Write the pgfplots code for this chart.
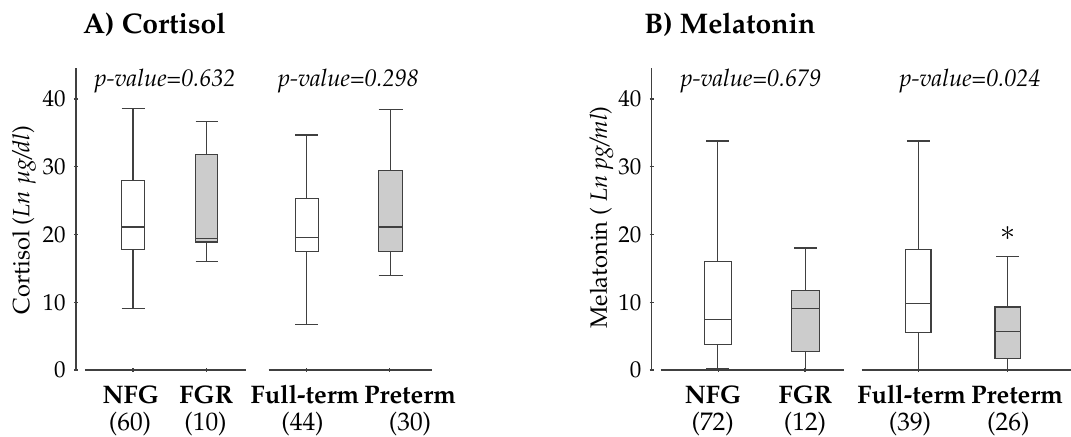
\documentclass[border=0pt,12pt]{standalone}
\usepackage[T1]{fontenc}
\usepackage{mathpazo}
\usepackage{pgfplots}
\pgfplotsset{compat=1.18}
\usepgfplotslibrary{statistics}
\definecolor{edge}{RGB}{64,64,64}
\definecolor{boxgray}{RGB}{204,204,204}
\newcommand{\lab}{\fontsize{12.7}{15}\selectfont}
\newcommand{\ttl}{\fontsize{14.2}{17}\selectfont\bfseries}
\pgfplotsset{
  panel/.style={
    x=0.5pt, y=3.3875pt, ymin=0, ymax=44.6, clip=false,
    anchor=south west,
    tick style={draw=edge, line width=0.6pt},
    tick align=outside, major tick length=2pt,
    xticklabels={},
    yticklabel style={font=\fontsize{11.5}{13}\selectfont},
    boxplot/draw direction=y,
  },
  lines/.style={
    axis line style={draw=edge, line width=0.6pt},
    every outer x axis line/.append style={-},
    every outer y axis line/.append style={-},
    x axis line style={-},
    y axis line style={-},
  },
  bw/.style={draw=edge, line width=0.6pt, fill=white, solid, mark=none},
  bg/.style={draw=edge, line width=0.6pt, fill=boxgray, solid, mark=none},
}
\begin{document}
\begin{tikzpicture}
\useasboundingbox (0,0) rectangle (535.5pt,-218.5pt);
% ---------- A) Cortisol, group 1 ----------
\begin{axis}[panel, at={(38pt,-185pt)}, xmin=76, xmax=246,
  axis x line=bottom, axis y line=left, lines,
  x axis line style={shorten <=4.5pt},
  xtick={133,206.7}, ytick={0,10,20,30,40},
  ylabel={Cortisol (\textit{Ln $\mu$g/dl})},
  ylabel style={at={(axis description cs:-0.305,0.496)}, anchor=center, font=\fontsize{11.8}{13}\selectfont}]
\addplot[bw, boxplot prepared={draw position=133, lower whisker=9.05, lower quartile=17.8, median=21.1, upper quartile=28.0, upper whisker=38.6, box extend=23, whisker extend=23}] coordinates {};
\addplot[bg, boxplot prepared={draw position=206.7, lower whisker=16.0, lower quartile=18.9, median=19.4, upper quartile=31.8, upper whisker=36.65, box extend=22, whisker extend=22}] coordinates {};
\node[anchor=base west, inner sep=0pt, font=\ttl] at (axis cs:82.7,49.6) {A) Cortisol};
\node[anchor=base] at (axis cs:165,41.9) {\textit{p-value=0.632}};
\node[anchor=base, font=\lab\bfseries] at (axis cs:130.8,-4.95) {NFG};
\node[anchor=base, font=\lab] at (axis cs:130,-9.0) {(60)};
\node[anchor=base, font=\lab\bfseries] at (axis cs:206.3,-4.95) {FGR};
\node[anchor=base, font=\lab] at (axis cs:205.5,-9.0) {(10)};
\end{axis}
% ---------- A) Cortisol, group 2 ----------
\begin{axis}[panel, at={(134.35pt,-185pt)}, xmin=268.7, xmax=432.3,
  axis x line=bottom, axis y line=none, lines,
  xtick={306.7,389.3}, ytick=\empty]
\addplot[bw, boxplot prepared={draw position=306.7, lower whisker=6.7, lower quartile=17.5, median=19.6, upper quartile=25.3, upper whisker=34.7, box extend=23, whisker extend=23}] coordinates {};
\addplot[bg, boxplot prepared={draw position=390.5, lower whisker=13.9, lower quartile=17.5, median=21.1, upper quartile=29.5, upper whisker=38.4, box extend=24, whisker extend=24}] coordinates {};
\node[anchor=base] at (axis cs:348.3,41.9) {\textit{p-value=0.298}};
\node[anchor=base, font=\lab\bfseries] at (axis cs:305,-4.95) {Full-term};
\node[anchor=base, font=\lab] at (axis cs:302.5,-9.0) {(44)};
\node[anchor=base, font=\lab\bfseries] at (axis cs:410,-4.95) {Preterm};
\node[anchor=base, font=\lab] at (axis cs:410,-9.0) {(30)};
\end{axis}
% ---------- B) Melatonin, group 1 ----------
\begin{axis}[panel, at={(325.85pt,-185pt)}, xmin=651.7, xmax=844,
  axis x line=bottom, axis y line=left, lines,
  x axis line style={shorten <=4.5pt},
  xtick={718.3,805}, ytick={0,10,20,30,40},
  ylabel={Melatonin ( \textit{Ln pg/ml})},
  ylabel style={at={(axis description cs:-0.26,0.505)}, anchor=center, font=\fontsize{11.8}{13}\selectfont}]
\addplot[bw, boxplot prepared={draw position=717.7, lower whisker=0.15, lower quartile=3.8, median=7.4, upper quartile=16.0, upper whisker=33.8, box extend=27, whisker extend=23}] coordinates {};
\addplot[bg, boxplot prepared={draw position=805.5, lower whisker=0, lower quartile=2.7, median=9.05, upper quartile=11.7, upper whisker=18.0, box extend=27.5, whisker extend=23}] coordinates {};
\node[anchor=base west, inner sep=0pt, font=\ttl] at (axis cs:644,49.6) {B) Melatonin};
\node[anchor=base] at (axis cs:750.8,41.9) {\textit{p-value=0.679}};
\node[anchor=base, font=\lab\bfseries] at (axis cs:713,-4.95) {NFG};
\node[anchor=base, font=\lab] at (axis cs:712.7,-9.0) {(72)};
\node[anchor=base, font=\lab\bfseries] at (axis cs:805.5,-4.95) {FGR};
\node[anchor=base, font=\lab] at (axis cs:805,-9.0) {(12)};
\end{axis}
% ---------- B) Melatonin, group 2 ----------
\begin{axis}[panel, at={(430.85pt,-185pt)}, xmin=861.7, xmax=1071,
  axis x line=bottom, axis y line=none, lines,
  xtick={918.3,1007.7}, ytick=\empty]
\addplot[bw, boxplot prepared={draw position=918.3, lower whisker=0, lower quartile=5.5, median=9.8, upper quartile=17.8, upper whisker=33.8, box extend=25.5, whisker extend=23}] coordinates {};
\addplot[bg, boxplot prepared={draw position=1007.7, lower whisker=0, lower quartile=1.7, median=5.7, upper quartile=9.3, upper whisker=16.7, box extend=25.5, whisker extend=23}] coordinates {};
\node[font=\large] at (axis cs:1007.7,20.1) {$\ast$};
\node[anchor=base] at (axis cs:970,41.9) {\textit{p-value=0.024}};
\node[anchor=base, font=\lab\bfseries] at (axis cs:911.7,-4.95) {Full-term};
\node[anchor=base, font=\lab] at (axis cs:910,-9.0) {(39)};
\node[anchor=base, font=\lab\bfseries] at (axis cs:1017,-4.95) {Preterm};
\node[anchor=base, font=\lab] at (axis cs:1008.3,-9.0) {(26)};
\end{axis}
\end{tikzpicture}
\end{document}
